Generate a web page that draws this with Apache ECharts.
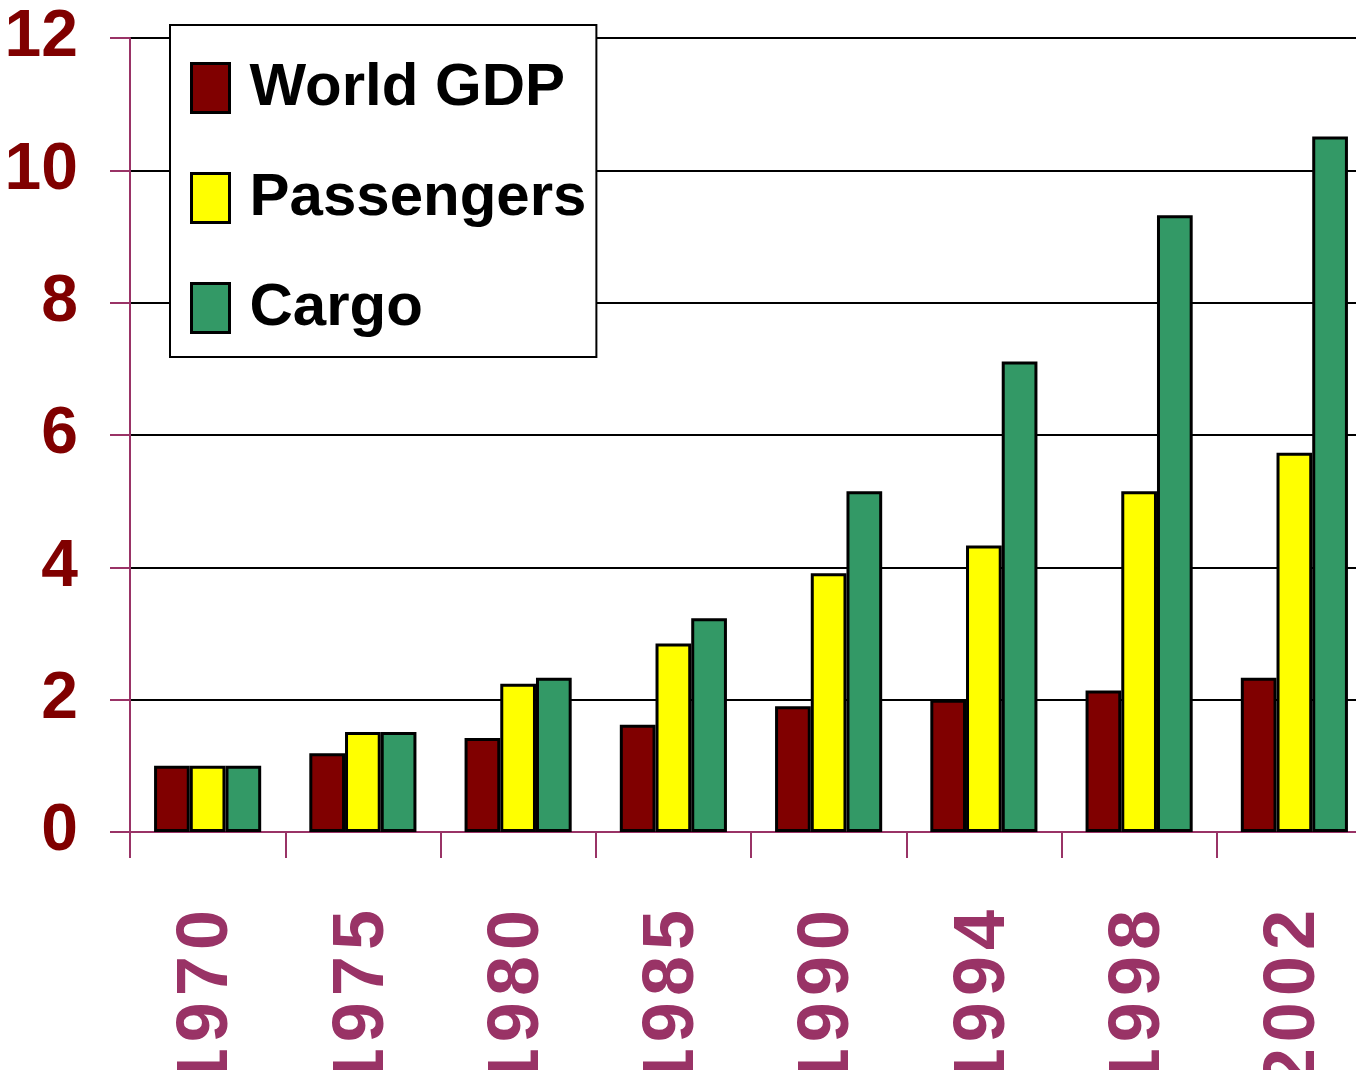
<!DOCTYPE html>
<html>
<head>
<meta charset="utf-8">
<script src="https://cdn.jsdelivr.net/npm/echarts@6/dist/echarts.min.js"></script>
<style>
html,body{margin:0;padding:0;background:#fff;}
#chart{width:1356px;height:1070px;}
</style>
</head>
<body>
<div id="chart"></div>
<script>
const years = ['1970','1975','1980','1985','1990','1994','1998','2002'];
const worldGDP = [1.0, 1.19, 1.42, 1.62, 1.9, 2.0, 2.14, 2.33];
const passengers = [1.0, 1.51, 2.24, 2.85, 3.91, 4.33, 5.15, 5.73];
const cargo = [1.0, 1.51, 2.33, 3.23, 5.15, 7.11, 9.32, 10.51];

const FONT = "'Liberation Sans',Arial,sans-serif";
const chart = echarts.init(document.getElementById('chart'));
const barBorder = {borderColor:'#000', borderWidth:3};
chart.setOption({
  backgroundColor:'#fff',
  animation:false,
  grid:{left:130, top:38, bottom:238, width:1242, outerBoundsMode:'none', containLabel:false},
  legend:{
    orient:'vertical', left:170, top:25,
    backgroundColor:'#fff', borderColor:'#000', borderWidth:2,
    padding:[26,10,12,20],
    itemWidth:38, itemHeight:49, itemGap:36,
    icon:'rect',
    itemStyle:{borderColor:'#000', borderWidth:3},
    textStyle:{fontFamily:FONT, fontWeight:'bold', fontSize:60, lineHeight:74, color:'#000', padding:[0,0,0,15]},
    data:['World GDP','Passengers','Cargo']
  },
  xAxis:{
    type:'category', data:years,
    axisLine:{lineStyle:{color:'#993366', width:2}},
    axisTick:{show:true, length:26, lineStyle:{color:'#993366', width:2}},
    axisLabel:{rotate:90, margin:78, fontFamily:FONT, fontWeight:'bold', fontSize:72, color:'#993366',
      formatter:function(v){return v.split('').join('\u200A');}}
  },
  yAxis:{
    type:'value', min:0, max:12, interval:2,
    axisLine:{show:true, lineStyle:{color:'#993366', width:2}},
    axisTick:{show:true, length:20, lineStyle:{color:'#993366', width:2}},
    axisLabel:{margin:52, fontFamily:FONT, fontWeight:'bold', fontSize:66, color:'#800000'},
    splitLine:{lineStyle:{color:'#000', width:2}}
  },
  series:[
    {name:'World GDP', type:'bar', data:worldGDP, barGap:'0%', barCategoryGap:'31%',
      itemStyle:Object.assign({color:'#800000'}, barBorder)},
    {name:'Passengers', type:'bar', data:passengers, barGap:'0%', barCategoryGap:'31%',
      itemStyle:Object.assign({color:'#FFFF00'}, barBorder)},
    {name:'Cargo', type:'bar', data:cargo, barGap:'0%', barCategoryGap:'31%',
      itemStyle:Object.assign({color:'#339966'}, barBorder)}
  ]
});
</script>
</body>
</html>
